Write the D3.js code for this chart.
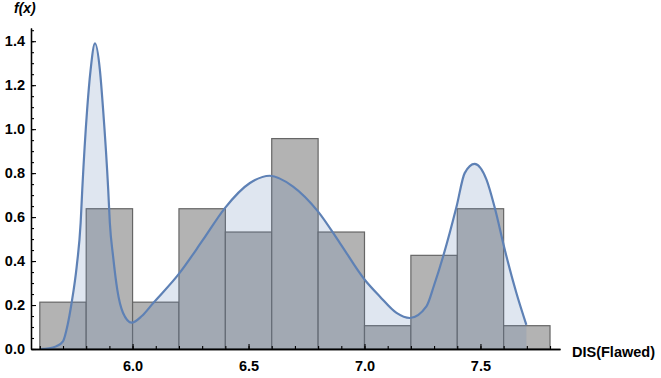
<!DOCTYPE html>
<html>
<head>
<meta charset="utf-8">
<script src="https://cdn.jsdelivr.net/npm/d3@7"></script>
<style>
  body { margin: 0; background: #fff; }
  svg { display: block; font-family: "Liberation Sans", Arial, sans-serif; }
</style>
</head>
<body>
<svg width="661" height="378"></svg>
<script>
// histogram bins (left edge) and density heights
const binStarts = [5.6, 5.8, 6.0, 6.2, 6.4, 6.6, 6.8, 7.0, 7.2, 7.4, 7.6]
const binHeights = [0.213, 0.638, 0.213, 0.638, 0.532, 0.957, 0.532, 0.106, 0.426, 0.638, 0.106]
const binWidth = 0.2

// smooth density curve
const curveX = [5.60, 5.64, 5.67, 5.70, 5.72, 5.737, 5.759, 5.776, 5.783, 5.804, 5.819, 5.838,
  5.859, 5.873, 5.895, 5.902, 5.916, 5.934, 5.959, 5.996, 6.04, 6.089, 6.197, 6.304, 6.398,
  6.506, 6.592, 6.692, 6.80, 6.894, 7.001, 7.066, 7.138, 7.195, 7.267, 7.30, 7.339, 7.397,
  7.432, 7.475, 7.526, 7.562, 7.605, 7.655, 7.698]
const curveY = [0.000, 0.003, 0.012, 0.035, 0.11, 0.209, 0.375, 0.573, 0.724, 1.088, 1.27, 1.39,
  1.27, 1.088, 0.724, 0.573, 0.421, 0.27, 0.164, 0.12, 0.15, 0.209, 0.338, 0.497, 0.641,
  0.755, 0.788, 0.739, 0.625, 0.482, 0.315, 0.239, 0.164, 0.141, 0.194, 0.29, 0.421, 0.648,
  0.80, 0.842, 0.77, 0.641, 0.451, 0.255, 0.11]

const xTicks = [6.0, 6.5, 7.0, 7.5]
const yTicks = [0.0, 0.2, 0.4, 0.6, 0.8, 1.0, 1.2, 1.4]

const xScale = d3.scaleLinear([5.562, 7.843], [31, 560])
const yScale = d3.scaleLinear([0, 1.46], [349, 28])

const svg = d3.select("svg")
const blue = "#5e81b5"

// barras
svg.append("g")
  .selectAll("rect")
  .data(binStarts)
  .join("rect")
    .attr("x", d => xScale(d))
    .attr("width", d => xScale(d + binWidth) - xScale(d))
    .attr("y", (d, i) => yScale(binHeights[i]))
    .attr("height", (d, i) => yScale(0) - yScale(binHeights[i]))
    .attr("fill", "#b3b3b3")
    .attr("stroke", "#666")
    .attr("stroke-width", 1.2)

const pts = curveX.map((x, i) => [x, curveY[i]])

const area = d3.area()
  .x(d => xScale(d[0]))
  .y0(yScale(0))
  .y1(d => yScale(d[1]))
  .curve(d3.curveMonotoneX)

const line = d3.line()
  .x(d => xScale(d[0]))
  .y(d => yScale(d[1]))
  .curve(d3.curveMonotoneX)

svg.append("path")
  .attr("d", area(pts))
  .attr("fill", blue)
  .attr("fill-opacity", 0.2)

svg.append("path")
  .attr("d", line(pts))
  .attr("fill", "none")
  .attr("stroke", blue)
  .attr("stroke-width", 2.2)

// ejes
const xAxis = d3.axisBottom(xScale)
  .tickValues(xTicks)
  .tickFormat(d3.format(".1f"))
  .tickSizeInner(-5).tickSizeOuter(0).tickPadding(12)
const xMinor = d3.axisBottom(xScale)
  .tickValues(d3.range(56, 79).map(v => v / 10))
  .tickFormat("")
  .tickSizeInner(-3).tickSizeOuter(0)

const yAxis = d3.axisLeft(yScale)
  .tickValues(yTicks)
  .tickFormat(d3.format(".1f"))
  .tickSizeInner(-5).tickSizeOuter(0).tickPadding(6)
const yMinor = d3.axisLeft(yScale)
  .tickValues(d3.range(0, 30).map(v => v * 0.05))
  .tickFormat("")
  .tickSizeInner(-3).tickSizeOuter(0)

function styleAxis(g) {
  g.select(".domain").attr("stroke", "#000").attr("stroke-width", 1.3)
  g.selectAll(".tick line").attr("stroke", "#000").attr("stroke-width", 1.1)
  g.selectAll("text")
    .attr("font-family", "Liberation Sans, Arial, sans-serif")
    .attr("font-size", "14.5px")
    .attr("font-weight", "bold")
    .attr("fill", "#000")
}

svg.append("g").attr("transform", "translate(0,349)").call(xMinor).call(styleAxis)
svg.append("g").attr("transform", "translate(0,349)").call(xAxis).call(styleAxis)
svg.append("g").attr("transform", "translate(31,0)").call(yMinor).call(styleAxis)
svg.append("g").attr("transform", "translate(31,0)").call(yAxis).call(styleAxis)

// etiquetas
svg.append("text")
  .attr("x", 572)
  .attr("y", 357)
  .attr("font-size", "14.5px")
  .attr("font-weight", "bold")
  .text("DIS(Flawed)")

svg.append("text")
  .attr("x", 14)
  .attr("y", 13)
  .attr("font-size", "14px")
  .attr("font-weight", "bold")
  .attr("font-style", "italic")
  .text("f(x)")
</script>
</body>
</html>
